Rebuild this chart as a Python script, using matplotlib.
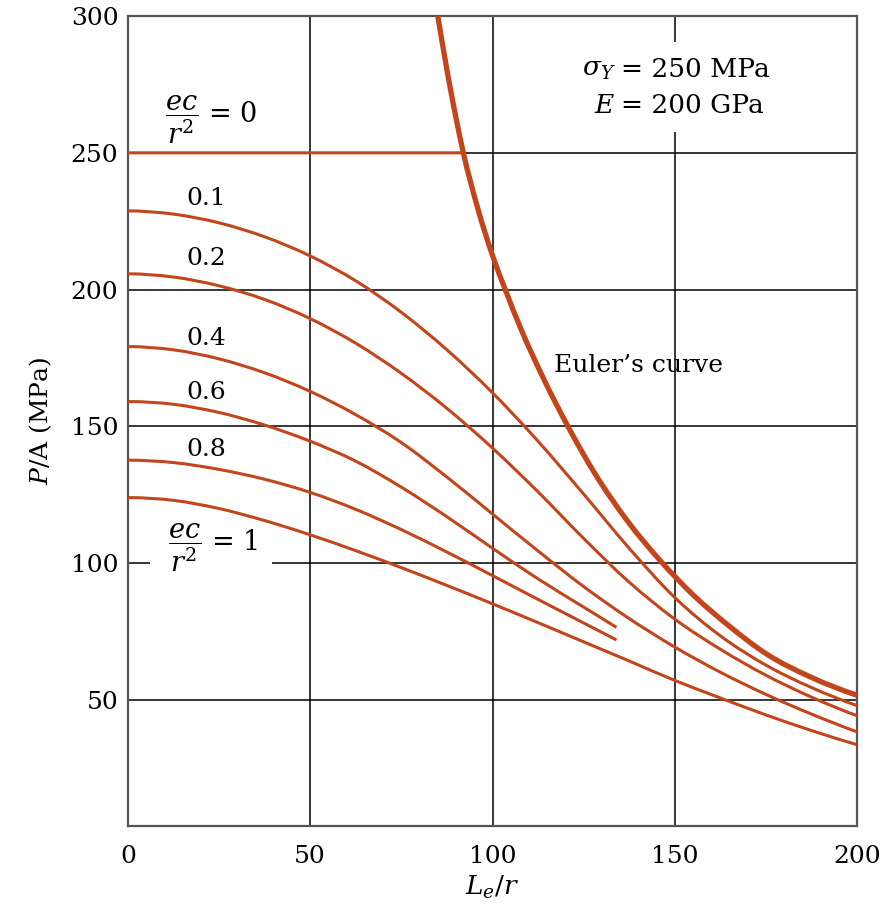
import matplotlib
matplotlib.use("Agg")
import matplotlib.pyplot as plt
from matplotlib.patches import Rectangle, PathPatch
from matplotlib.path import Path

plt.rcParams['font.family'] = ['DejaVu Serif']
plt.rcParams['mathtext.fontset'] = 'dejavuserif'

# ---------------- data ----------------
x_ticks = [0, 50, 100, 150, 200]
y_ticks = [50, 100, 150, 200, 250, 300]

# Euler's curve
L_euler = [85, 88.5, 92, 96, 100, 103.5, 108, 114, 120.5, 128, 137, 146, 155, 165, 175, 187.5, 200]
S_euler = [300, 273, 250, 229.5, 212.5, 200, 185, 167.5, 150.5, 133, 115.5, 101, 88.5, 77, 67, 58.3, 51.8]

# ec/r^2 = 0 (yield plateau up to Euler's curve)
L_e0 = [0, 92]
S_e0 = [250, 250]

# ec/r^2 = 0.1, 0.2, 0.4, 1 (drawn to L/r = 200)
L_full = [0, 12.5, 25, 37.5, 50, 62.5, 75, 87.5, 100, 112.5, 125, 137.5, 150, 162.5, 175, 187.5, 200]
S_e01 = [228.8, 227.6, 224.4, 219.3, 212.3, 203.2, 191.7, 178, 162.3, 144.6, 125.3, 105.5, 87.5, 73.5, 62.8, 54.6, 48]
S_e02 = [205.8, 204.6, 201.4, 196.4, 189.4, 180.4, 169.4, 156.6, 142.1, 126.1, 109.1, 93.1, 79.6, 68.6, 59.1, 51.1, 44.3]
S_e04 = [179.2, 178, 174.7, 169.6, 162.8, 154.3, 144.1, 131.5, 118, 104.5, 91.5, 79.8, 69.4, 60.2, 52.1, 44.9, 38.4]
S_e10 = [124, 123, 120, 115.6, 110.4, 104.6, 98.4, 91.9, 85.2, 78.3, 71.3, 64.3, 57.2, 50.8, 44.6, 38.9, 33.7]

# ec/r^2 = 0.6, 0.8 (stop at L/r ~ 134)
L_short = [0, 12.5, 25, 37.5, 50, 62.5, 75, 87.5, 100, 112.5, 125, 134]
S_e06 = [159.1, 158.1, 155.1, 150.5, 144.6, 137.3, 127.8, 117, 105.5, 94.3, 84, 76.6]
S_e08 = [137.7, 136.8, 134.3, 130.7, 125.9, 119.7, 112.3, 104.1, 95.5, 86.8, 78.2, 72.0]

curve_labels = ["0.1", "0.2", "0.4", "0.6", "0.8"]
label_y = [233.3, 211.4, 182.1, 162.4, 141.7]


def smooth_line(ax, xs, ys, **kw):
    """Draw a smooth (cubic Hermite / Bezier) line through the data points."""
    n = len(xs)
    h = [xs[i + 1] - xs[i] for i in range(n - 1)]
    d = [(ys[i + 1] - ys[i]) / h[i] for i in range(n - 1)]
    if n == 2:
        m = [d[0], d[0]]
    else:
        m = [0.0] * n
        for i in range(1, n - 1):
            m[i] = (h[i - 1] * d[i] + h[i] * d[i - 1]) / (h[i - 1] + h[i])
        m[0] = 2 * d[0] - m[1]
        m[-1] = 2 * d[-1] - m[-2]
    verts = [(xs[0], ys[0])]
    codes = [Path.MOVETO]
    for i in range(n - 1):
        verts += [(xs[i] + h[i] / 3, ys[i] + m[i] * h[i] / 3),
                  (xs[i + 1] - h[i] / 3, ys[i + 1] - m[i + 1] * h[i] / 3),
                  (xs[i + 1], ys[i + 1])]
        codes += [Path.CURVE4] * 3
    patch = PathPatch(Path(verts, codes), fill=False, **kw)
    ax.add_patch(patch)
    return patch


# ---------------- figure ----------------
W, H = 882, 914
fig = plt.figure(figsize=(W / 100, H / 100), dpi=100)
ax = fig.add_axes([128 / W, (H - 826) / H, 729 / W, 810 / H])

col = '#C2451B'
lw = 2.2
smooth_line(ax, L_euler, S_euler, edgecolor=col, lw=3.8, zorder=3, capstyle='butt')
smooth_line(ax, L_e0, S_e0, edgecolor=col, lw=lw, zorder=3, capstyle='butt')
for s in (S_e01, S_e02, S_e04, S_e10):
    smooth_line(ax, L_full, s, edgecolor=col, lw=lw, zorder=3, capstyle='butt')
for s in (S_e06, S_e08):
    smooth_line(ax, L_short, s, edgecolor=col, lw=lw, zorder=3, capstyle='butt')

ax.set_xlim(0, 200)
ax.set_ylim(4, 300)
ax.set_xticks(x_ticks)
ax.set_yticks(y_ticks)
ax.tick_params(length=0, labelsize=18)
ax.tick_params(axis='y', pad=7)
ax.tick_params(axis='x', pad=14)
for s in ax.spines.values():
    s.set_color('#555555')
    s.set_linewidth(1.6)

ax.grid(True, color='black', linewidth=1.1, zorder=0)
ax.set_axisbelow(True)

# labels
for t, yv in zip(curve_labels, label_y):
    ax.text(21.4, yv, t, fontsize=18, ha='center', va='center', zorder=5)

ax.text(22.8, 262, r"$\dfrac{ec}{r^2}$ = 0", fontsize=19.5, ha='center', va='center', zorder=5)

ax.add_patch(Rectangle((6, 96), 33.5, 8, facecolor='white', edgecolor='none', zorder=1))
ax.text(23.3, 105.8, r"$\dfrac{ec}{r^2}$ = 1", fontsize=19.5, ha='center', va='center', zorder=5)

ax.text(140, 172.3, "Euler\u2019s curve", fontsize=18, ha='center', va='center', zorder=5)

ax.add_patch(Rectangle((121, 257.5), 58, 33, facecolor='white', edgecolor='none', zorder=1))
ax.text(133.8, 280.3, r"$\sigma_Y$", fontsize=19, ha='right', va='center', zorder=5)
ax.text(135.2, 280.3, "= 250 MPa", fontsize=19, ha='left', va='center', zorder=5)
ax.text(133.8, 267.2, r"$E$", fontsize=19, ha='right', va='center', zorder=5)
ax.text(135.2, 267.2, "= 200 GPa", fontsize=19, ha='left', va='center', zorder=5)

ax.set_xlabel(r"$L_e/r$", fontsize=19, labelpad=4)
ax.set_ylabel(r"$P$/A (MPa)", fontsize=18, labelpad=12)

fig.savefig("out.png", dpi=100)
